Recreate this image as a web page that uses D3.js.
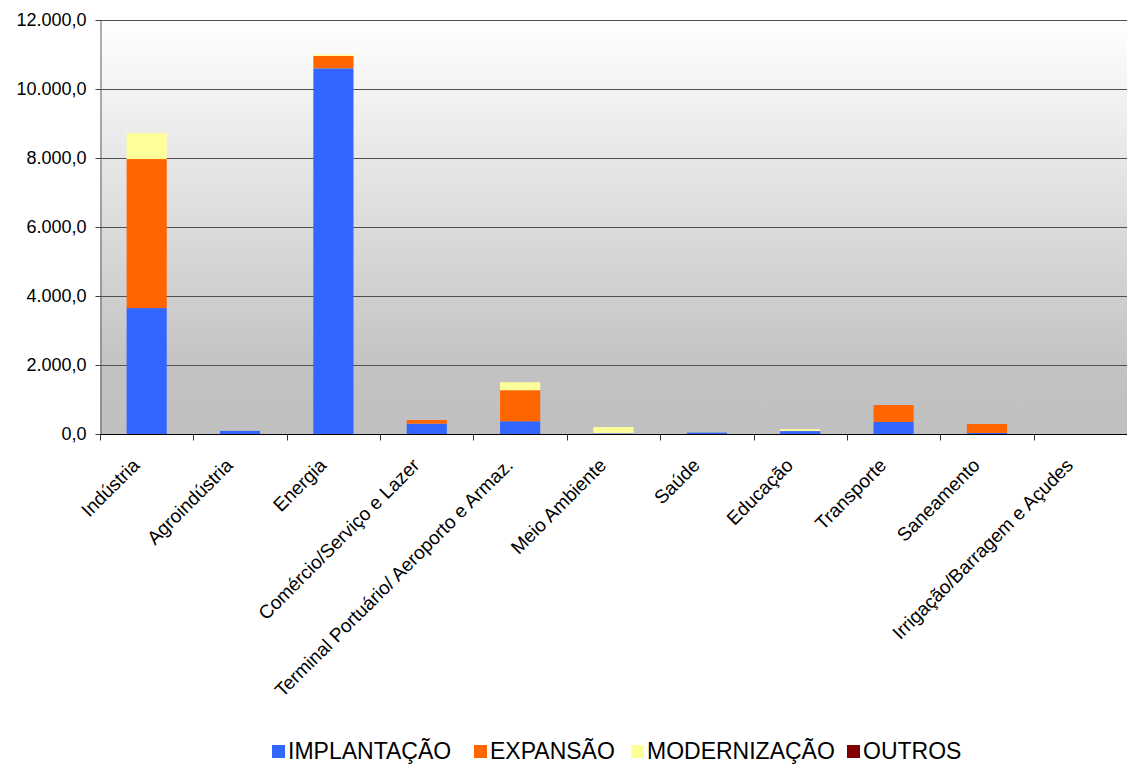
<!DOCTYPE html>
<html><head><meta charset="utf-8">
<script src="https://cdn.jsdelivr.net/npm/d3@7"></script>
<style>body{margin:0;background:#fff;font-family:"Liberation Sans",Arial,sans-serif;}</style>
</head><body>
<svg id="c" width="1127" height="765"></svg>
<script>
const categories = ["Indústria","Agroindústria","Energia","Comércio/Serviço e Lazer","Terminal Portuário/ Aeroporto e Armaz.","Meio Ambiente","Saúde","Educação","Transporte","Saneamento","Irrigação/Barragem e Açudes"];
const seriesNames = ["IMPLANTAÇÃO","EXPANSÃO","MODERNIZAÇÃO","OUTROS"];
const implantacao = [3650, 90, 10600, 300, 370, 20, 40, 85, 350, 30, 0];
const expansao    = [4320, 0, 360, 105, 900, 0, 0, 0, 490, 260, 0];
const modernizacao= [750, 0, 40, 0, 230, 180, 0, 55, 0, 0, 0];
const outros      = [0, 0, 0, 0, 0, 0, 0, 0, 0, 0, 0];
const colors = ["#3366FF","#FF6600","#FFFF99","#800000"];
const yTicks = [0,2000,4000,6000,8000,10000,12000];

const svg = d3.select("#c");
const m = {l:100, r:1127, t:20, b:434};
const x = d3.scaleBand().domain(categories).range([m.l, m.r]).paddingInner(0.57).paddingOuter(0.285);
const xb = d3.scaleBand().domain(categories).range([m.l, m.r]);
const y = d3.scaleLinear().domain([0,12000]).range([m.b, m.t]);

const defs = svg.append("defs");
const g = defs.append("linearGradient").attr("id","bg").attr("x1",0).attr("y1",0).attr("x2",0).attr("y2",1);
g.append("stop").attr("offset","0%").attr("stop-color","#ffffff");
g.append("stop").attr("offset","85%").attr("stop-color","#c2c2c2");
g.append("stop").attr("offset","100%").attr("stop-color","#c0c0c0");
svg.append("rect").attr("x",m.l).attr("y",m.t).attr("width",m.r-m.l).attr("height",m.b-m.t).attr("fill","url(#bg)");

// gridlines
svg.append("g").selectAll("line").data(yTicks.filter(d=>d>0)).join("line")
  .attr("x1",m.l).attr("x2",m.r).attr("y1",d=>y(d)+0.5).attr("y2",d=>y(d)+0.5)
  .attr("stroke","#505050").attr("stroke-width",1);

const fmt = d => d3.format(",.1f")(d).replace(/,/g,"#").replace(".",",").replace(/#/g,".");

// stacked bars
const rows = categories.map((c,i)=>({cat:c, s0:implantacao[i], s1:expansao[i], s2:modernizacao[i], s3:outros[i]}));
const stack = d3.stack().keys(["s0","s1","s2","s3"])(rows);
svg.append("g").selectAll("g").data(stack).join("g").attr("fill",(d,i)=>colors[i])
  .selectAll("rect").data(d=>d).join("rect")
  .attr("x",d=>x(d.data.cat)).attr("width",x.bandwidth())
  .attr("y",d=>y(d[1])).attr("height",d=>Math.max(0,y(d[0])-y(d[1])));

// y axis
const ya = svg.append("g").attr("transform",`translate(${m.l+0.5},0)`)
  .call(d3.axisLeft(y).tickValues(yTicks).tickFormat(fmt).tickSize(5).tickSizeOuter(0));
ya.select(".domain").attr("stroke","#606060");
ya.selectAll(".tick line").attr("stroke","#404040");
ya.selectAll("text").attr("font-size","18px").attr("font-family","Liberation Sans, Arial, sans-serif").attr("fill","#000").attr("x",-14);

// x axis
const xa = svg.append("g").attr("transform",`translate(0,${m.b+0.5})`);
xa.append("line").attr("x1",m.l).attr("x2",m.r).attr("stroke","#000");
const bounds = d3.range(categories.length+1).map(i=> i<categories.length ? xb(categories[i]) : m.r-0.5);
xa.selectAll("line.t").data(bounds).join("line").attr("class","t")
  .attr("x1",d=>Math.round(d)+0.5).attr("x2",d=>Math.round(d)+0.5).attr("y1",0).attr("y2",6).attr("stroke","#303030");
xa.selectAll("text").data(categories).join("text")
  .attr("transform",d=>`translate(${xb(d)+xb.bandwidth()/2-6},${32}) rotate(-45)`)
  .attr("text-anchor","end").attr("font-size","19px").attr("fill","#000")
  .attr("font-family","Liberation Sans, Arial, sans-serif")
  .text(d=>d);

// legend
const legX = [272, 474, 631, 847];
const leg = svg.append("g");
seriesNames.forEach((n,i)=>{
  leg.append("rect").attr("x",legX[i]).attr("y",745).attr("width",13).attr("height",13).attr("fill",colors[i]);
  leg.append("text").attr("x",legX[i]+16).attr("y",759).attr("font-size","23px").attr("fill","#000")
    .attr("font-family","Liberation Sans, Arial, sans-serif").text(n);
});
</script>
</body></html>
